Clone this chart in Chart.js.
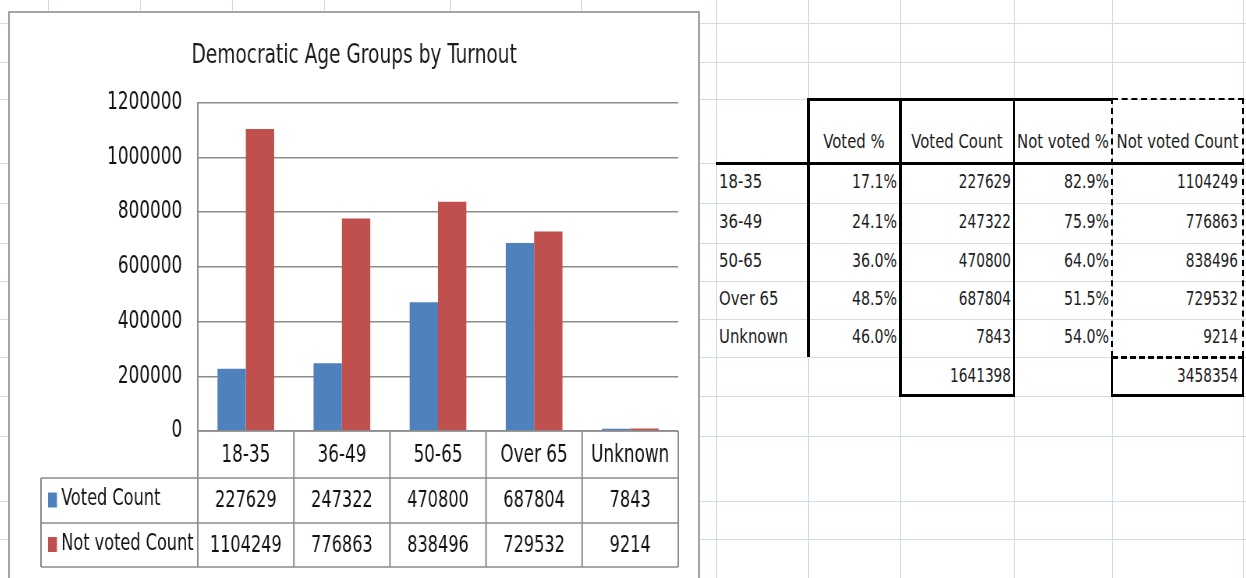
<!DOCTYPE html>
<html>
<head>
<meta charset="utf-8">
<script src="https://cdn.jsdelivr.net/npm/chart.js@4.4.1/dist/chart.umd.min.js"></script>
<style>
  html, body { margin: 0; padding: 0; background: #fff; }
  #sheet { position: relative; width: 1246px; height: 578px; overflow: hidden;
           font-family: 'Liberation Sans Narrow', 'DejaVu Sans Condensed', sans-serif; }
  .gv { position: absolute; top: 0; width: 1px; height: 578px; background: #d3dae8; }
  .gh { position: absolute; left: 0; height: 1px; width: 1246px; background: #d3dae8; }
  #frame { position: absolute; left: 8px; top: 11px; width: 692px; height: 600px;
           box-sizing: border-box; border: 2px solid #a6a6a6; background: #fff; }
  #chartBox { position: absolute; left: 9px; top: 12px; width: 690px; height: 566px; }
  /* the reference screenshot is squeezed sideways, so the canvas is drawn wider and squeezed back */
  #turnout-chart { transform: scaleX(0.78); transform-origin: 0 0; }
  .cell { position: absolute; font-size: 19px; color: #1e1e1e; white-space: nowrap; line-height: 20px; }
  .ln { position: absolute; background: #000; }
</style>
</head>
<body>
<div id="sheet">
  <div id="frame"></div>
  <div id="chartBox"><canvas id="turnout-chart" width="885" height="566"></canvas></div>
</div>
<script>
// Data
const categories = ['18-35', '36-49', '50-65', 'Over 65', 'Unknown'];
const votedCount = [227629, 247322, 470800, 687804, 7843];
const notVotedCount = [1104249, 776863, 838496, 729532, 9214];
const votedPct = ['17.1%', '24.1%', '36.0%', '48.5%', '46.0%'];
const notVotedPct = ['82.9%', '75.9%', '64.0%', '51.5%', '54.0%'];
const seriesNames = ['Voted Count', 'Not voted Count'];
const seriesColors = ['#4f81bd', '#c0504d'];
const chartTitle = 'Democratic Age Groups by Turnout';

const chartFont = "'Liberation Sans Narrow', 'DejaVu Sans Condensed', sans-serif";

// Spreadsheet grid behind the chart
const sheet = document.getElementById('sheet');
const colLines = [48, 140, 232, 324, 450, 581, 716, 808, 900, 1014, 1112, 1243];
const rowLines = [23, 62, 99, 163, 203, 243, 281, 319, 357, 396, 436, 501, 539];
const frame = document.getElementById('frame');
colLines.forEach(x => {
    const d = document.createElement('div');
    d.className = 'gv';
    d.style.left = x + 'px';
    sheet.insertBefore(d, frame);
});
rowLines.forEach(y => {
    const d = document.createElement('div');
    d.className = 'gh';
    d.style.top = y + 'px';
    sheet.insertBefore(d, frame);
});

// Table on the right
const tCols = [716, 808, 900, 1014, 1112, 1243];
const tRows = [99, 163, 203, 243, 281, 319, 357, 396];

function addText(text, left, right, top, bottom, align, vAlign) {
    const d = document.createElement('div');
    d.className = 'cell';
    d.textContent = text;
    if (align === 'center') {
        d.style.width = (right - left + 40) + 'px';
        d.style.left = (left - 20) + 'px';
    } else {
        d.style.width = (right - left - 8) + 'px';
        d.style.left = (left + 4) + 'px';
    }
    d.style.textAlign = align;
    // narrow the text like the Arial Narrow cells of the sheet
    let squeeze = 0.87;
    if (/^[0-9]+$/.test(text)) squeeze = 0.8;
    else if (/%$/.test(text) && text.length < 7) squeeze = 0.83;
    d.style.transform = 'scaleX(' + squeeze + ')';
    d.style.transformOrigin = align + ' center';
    const y = vAlign === 'bottom' ? bottom - 32 : (top + bottom) / 2 - 12;
    d.style.top = y + 'px';
    sheet.appendChild(d);
}

function addLine(x, y, w, h, dashed) {
    const d = document.createElement('div');
    d.className = 'ln';
    d.style.left = x + 'px';
    d.style.top = y + 'px';
    d.style.width = w + 'px';
    d.style.height = h + 'px';
    if (dashed) {
        d.style.background = 'none';
        if (w > h) d.style.borderTop = h + 'px dashed #000';
        else d.style.borderLeft = w + 'px dashed #000';
        d.style.height = (w > h ? 0 : h) + 'px';
        d.style.width = (w > h ? w : 0) + 'px';
    }
    sheet.appendChild(d);
}

const headers = ['Voted %', 'Voted Count', 'Not voted %', 'Not voted Count'];
headers.forEach((h, i) => addText(h, tCols[i + 1], tCols[i + 2], tRows[0], tRows[1], 'center', 'bottom'));
categories.forEach((c, i) => {
    const top = tRows[i + 1], bottom = tRows[i + 2];
    addText(c, tCols[0] - 1, tCols[1], top, bottom, 'left');
    addText(votedPct[i], tCols[1], tCols[2] + 1, top, bottom, 'right');
    addText(String(votedCount[i]), tCols[2], tCols[3] + 1, top, bottom, 'right');
    addText(notVotedPct[i], tCols[3], tCols[4] + 1, top, bottom, 'right');
    addText(String(notVotedCount[i]), tCols[4], tCols[5] - 1, top, bottom, 'right');
});
const votedTotal = votedCount.reduce((a, b) => a + b, 0);
const notVotedTotal = notVotedCount.reduce((a, b) => a + b, 0);
addText(String(votedTotal), tCols[2], tCols[3] + 1, tRows[6], tRows[7], 'right');
addText(String(notVotedTotal), tCols[4], tCols[5] - 1, tRows[6], tRows[7], 'right');

// borders
addLine(808, 98, 304, 3);          // header top
addLine(807, 98, 3, 259);          // left of Voted %
addLine(899, 98, 3, 299);          // left of Voted Count
addLine(1013, 98, 2, 299);         // left of Not voted %
addLine(716, 162, 528, 3);         // under header
addLine(899, 394, 116, 3);         // bottom of Voted Count total
addLine(1112, 98, 132, 2, true);   // dashed top
addLine(1111, 98, 2, 259, true);   // dashed left
addLine(1242, 98, 2, 259, true);   // dashed right
addLine(1112, 356, 132, 3, true);  // dashed bottom
addLine(1111, 357, 2, 40);
addLine(1242, 357, 2, 40);
addLine(1111, 394, 133, 3);

// Data table under the plot (drawn in the wide canvas coordinates)
const dataTablePlugin = {
    id: 'dataTable',
    afterDraw(chart) {
        const ctx = chart.ctx;
        const x = chart.scales.x;
        const area = chart.chartArea;
        const rows = [area.bottom, area.bottom + 47, area.bottom + 92, area.bottom + 136];
        const legendLeft = 41;
        const half = (x.getPixelForValue(1) - x.getPixelForValue(0)) / 2;
        const edges = categories.map((c, i) => x.getPixelForValue(i) - half);
        edges.push(area.right);

        ctx.save();
        ctx.strokeStyle = '#8c8c8c';
        ctx.lineWidth = 1.5;
        ctx.beginPath();
        ctx.moveTo(area.left, rows[0]);
        ctx.lineTo(area.right, rows[0]);
        for (let r = 1; r < rows.length; r++) {
            ctx.moveTo(legendLeft, rows[r]);
            ctx.lineTo(area.right, rows[r]);
        }
        ctx.stroke();
        ctx.lineWidth = 2;
        ctx.beginPath();
        edges.forEach(e => {
            ctx.moveTo(e, rows[0]);
            ctx.lineTo(e, rows[3]);
        });
        ctx.moveTo(legendLeft, rows[1]);
        ctx.lineTo(legendLeft, rows[3]);
        ctx.stroke();

        ctx.fillStyle = '#111';
        ctx.textAlign = 'center';
        ctx.textBaseline = 'middle';
        const series = [votedCount, notVotedCount];
        categories.forEach((c, i) => {
            const cx = x.getPixelForValue(i);
            ctx.font = '24px ' + chartFont;
            ctx.fillText(c, cx, (rows[0] + rows[1]) / 2 + 1);
            ctx.font = '23px ' + chartFont;
            series.forEach((s, k) => {
                ctx.fillText(String(s[i]), cx, (rows[k + 1] + rows[k + 2]) / 2 + 1);
            });
        });
        ctx.textAlign = 'left';
        seriesNames.forEach((name, k) => {
            const cy = (rows[k + 1] + rows[k + 2]) / 2;
            ctx.fillStyle = seriesColors[k];
            ctx.fillRect(legendLeft + 9, cy - 8, 11.5, 15);
            ctx.fillStyle = '#111';
            ctx.fillText(name, legendLeft + 26, cy - 1);
        });
        ctx.restore();
    }
};

const ctx = document.getElementById('turnout-chart').getContext('2d');
const turnoutChart = new Chart(ctx, {
    type: 'bar',
    data: {
        labels: categories,
        datasets: [
            { label: seriesNames[0], data: votedCount, backgroundColor: seriesColors[0] },
            { label: seriesNames[1], data: notVotedCount, backgroundColor: seriesColors[1] }
        ]
    },
    options: {
        responsive: false,
        animation: false,
        layout: { padding: { left: 27, right: 27, top: 0, bottom: 0 } },
        datasets: { bar: { categoryPercentage: 0.59, barPercentage: 1.0, borderWidth: 0 } },
        plugins: {
            legend: { display: false },
            tooltip: { enabled: false },
            title: {
                display: true,
                text: chartTitle,
                color: '#1a1a1a',
                font: { family: chartFont, size: 26.5, weight: 'normal' },
                padding: { top: 28, bottom: 31 }
            }
        },
        scales: {
            x: {
                grid: { display: false },
                border: { display: false },
                ticks: { display: false },
                afterFit: scale => { scale.height = 147; }
            },
            y: {
                min: 0,
                max: 1200000,
                ticks: {
                    stepSize: 200000,
                    padding: 20,
                    color: '#111',
                    font: { family: chartFont, size: 24 },
                    callback: value => String(value)
                },
                grid: { color: '#8c8c8c', lineWidth: 1.5, drawTicks: false },
                border: { display: true, color: '#8c8c8c', width: 2 },
                afterFit: scale => { scale.width = 215; }
            }
        }
    },
    plugins: [dataTablePlugin]
});
</script>
</body>
</html>
